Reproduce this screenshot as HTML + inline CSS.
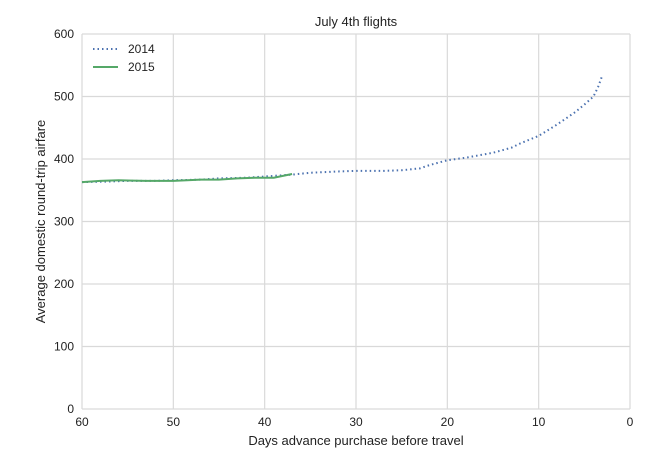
<!DOCTYPE html>
<html><head><meta charset="utf-8"><style>
body{margin:0;background:#fff;font-family:"Liberation Sans",sans-serif}
</style></head><body>
<svg id="c" width="650" height="459" xmlns="http://www.w3.org/2000/svg" font-family="Liberation Sans, sans-serif"></svg>
<script>
const days2014=[60,57,55,52,50,47,45,42,40,37,35,32,30,27,25,23,22,20,18,15,13,12,10,9,8,7,6,5,4,3.5,3];
const fare2014=[363,364,365,365,366,367,369,370,372,375,378,380,381,381,382,385,390,398,402,410,418,425,437,446,455,465,475,487,500,515,535];
const days2015=[60,58,56,53,50,47,45,43,41,39,37];
const fare2015=[363,365,366,365,365,367,367,369,370,370,376];
const xTicks=[60,50,40,30,20,10,0];
const yTicks=[0,100,200,300,400,500,600];
const L=82,R=630,T=34,B=409;
const X=d=>L+(60-d)/60*(R-L);
const Y=v=>B-v/600*(B-T);
const s=document.getElementById('c');const NS='http://www.w3.org/2000/svg';
function el(t,a,txt){const e=document.createElementNS(NS,t);for(const k in a)e.setAttribute(k,a[k]);if(txt!==undefined)e.textContent=txt;s.appendChild(e);return e;}
const bg=el('rect',{x:L,y:T,width:R-L,height:B-T,fill:'#fff'});


xTicks.forEach(t=>{const g=el('line',{x1:X(t),x2:X(t),y1:T,y2:B,stroke:'#d9d9d9','stroke-width':1.2});


const l=el('text',{x:X(t),y:B+17,'text-anchor':'middle','font-size':12,fill:'#222'},t);

});
yTicks.forEach(t=>{const g=el('line',{x1:L,x2:R,y1:Y(t),y2:Y(t),stroke:'#d9d9d9','stroke-width':1.2});


const l=el('text',{x:L-8,y:Y(t)+4,'text-anchor':'end','font-size':12,fill:'#222'},t);

});
const p1=el('polyline',{points:days2014.map((d,i)=>X(d)+','+Y(fare2014[i])).join(' '),fill:'none',stroke:'#4c72b0','stroke-width':2,'stroke-dasharray':'1.5,3'});


const p2=el('polyline',{points:days2015.map((d,i)=>X(d)+','+Y(fare2015[i])).join(' '),fill:'none',stroke:'#55a868','stroke-width':2});


const ti=el('text',{x:(L+R)/2,y:26,'text-anchor':'middle','font-size':13,fill:'#222'},'July 4th flights');


const xt=el('text',{x:(L+R)/2,y:445,'text-anchor':'middle','font-size':13,fill:'#222'},'Days advance purchase before travel');


const yt=el('text',{x:0,y:0,'text-anchor':'middle','font-size':13,fill:'#222',transform:`translate(45,${(T+B)/2}) rotate(-90)`},'Average domestic round-trip airfare');


const l1=el('line',{x1:93,x2:118,y1:49,y2:49,stroke:'#4c72b0','stroke-width':2,'stroke-dasharray':'1.5,3'});


const t1=el('text',{x:128,y:53,'font-size':12,fill:'#222'},'2014');


const l2=el('line',{x1:93,x2:118,y1:67,y2:67,stroke:'#55a868','stroke-width':2});


const t2=el('text',{x:128,y:71,'font-size':12,fill:'#222'},'2015');


</script>
</body></html>
